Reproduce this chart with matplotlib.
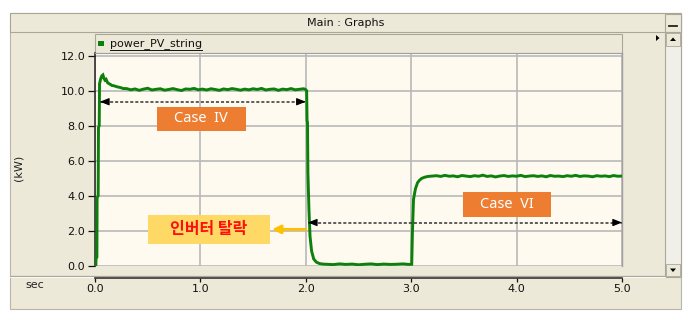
import matplotlib
matplotlib.use('Agg')
import matplotlib.pyplot as plt
from matplotlib.patches import Rectangle, Polygon
from matplotlib.lines import Line2D

# ---------------- data ----------------
rise_t = [0.0, 0.008, 0.010, 0.018, 0.020, 0.030, 0.033, 0.040, 0.043, 0.055, 0.065,
          0.075, 0.085, 0.095, 0.105, 0.12, 0.14, 0.16, 0.18, 0.21, 0.24, 0.27]
rise_p = [0.0, 0.0, 0.45, 0.5, 3.9, 4.0, 7.9, 8.0, 10.4, 10.7, 10.85,
          10.9, 10.7, 10.6, 10.65, 10.45, 10.38, 10.3, 10.28, 10.22, 10.18, 10.12]
plat1_t = [0.30, 0.34, 0.38, 0.42, 0.46, 0.50, 0.54, 0.58, 0.62, 0.66,
           0.70, 0.74, 0.78, 0.82, 0.86, 0.90, 0.94, 0.98, 1.02, 1.06,
           1.10, 1.14, 1.18, 1.22, 1.26, 1.30, 1.34, 1.38, 1.42, 1.46,
           1.50, 1.54, 1.58, 1.62, 1.66, 1.70, 1.74, 1.78, 1.82, 1.86,
           1.90, 1.94, 1.98]
plat1_p = [10.12, 10.05, 10.10, 10.02, 10.09, 10.14, 10.04, 10.08, 10.11, 10.03,
           10.07, 10.12, 10.06, 10.01, 10.10, 10.08, 10.13, 10.05, 10.09, 10.04,
           10.11, 10.07, 10.02, 10.10, 10.06, 10.12, 10.08, 10.03, 10.09, 10.05,
           10.11, 10.07, 10.13, 10.04, 10.08, 10.10, 10.02, 10.09, 10.06, 10.12,
           10.05, 10.08, 10.11]
drop_t = [1.995, 2.008, 2.012, 2.016, 2.020, 2.030, 2.040, 2.055, 2.075, 2.10, 2.13, 2.16]
drop_p = [10.08, 10.0, 8.3, 8.2, 5.3, 3.2, 1.7, 0.85, 0.4, 0.22, 0.14, 0.11]
plat2_t = [2.20, 2.26, 2.32, 2.38, 2.44, 2.50, 2.56, 2.62, 2.68, 2.74, 2.80, 2.86, 2.92, 2.98]
plat2_p = [0.10, 0.08, 0.12, 0.09, 0.11, 0.07, 0.10, 0.12, 0.08, 0.11, 0.09, 0.10, 0.12, 0.09]
rise2_t = [3.005, 3.012, 3.022, 3.04, 3.06, 3.08, 3.10, 3.13, 3.16, 3.20]
rise2_p = [0.10, 2.0, 3.8, 4.4, 4.75, 4.9, 5.0, 5.07, 5.11, 5.13]
plat3_t = [3.24, 3.28, 3.32, 3.36, 3.40, 3.44, 3.48, 3.52, 3.56, 3.60,
           3.64, 3.68, 3.72, 3.76, 3.80, 3.84, 3.88, 3.92, 3.96, 4.00,
           4.04, 4.08, 4.12, 4.16, 4.20, 4.24, 4.28, 4.32, 4.36, 4.40,
           4.44, 4.48, 4.52, 4.56, 4.60, 4.64, 4.68, 4.72, 4.76, 4.80,
           4.84, 4.88, 4.92, 4.96, 5.00]
plat3_p = [5.15, 5.11, 5.17, 5.12, 5.14, 5.09, 5.16, 5.13, 5.10, 5.15,
           5.12, 5.18, 5.11, 5.14, 5.08, 5.13, 5.16, 5.11, 5.14, 5.12,
           5.17, 5.10, 5.13, 5.15, 5.11, 5.14, 5.09, 5.16, 5.12, 5.13,
           5.10, 5.15, 5.12, 5.17, 5.11, 5.14, 5.13, 5.09, 5.15, 5.12,
           5.14, 5.10, 5.16, 5.12, 5.13]

x_ticks = [0, 1, 2, 3, 4, 5]
x_tick_labels = ['0.0', '1.0', '2.0', '3.0', '4.0', '5.0']
y_ticks = [0, 2, 4, 6, 8, 10, 12]
y_tick_labels = ['0.0', '2.0', '4.0', '6.0', '8.0', '10.0', '12.0']
series_name = 'power_PV_string'
title = 'Main : Graphs'
case4_label = 'Case  IV'
case6_label = 'Case  VI'
trip_label = '인버터 탈락'

t_all = rise_t + plat1_t + drop_t + plat2_t + rise2_t + plat3_t
p_all = rise_p + plat1_p + drop_p + plat2_p + rise2_p + plat3_p

# ---------------- layout helpers ----------------
W, H = 692, 321
fig = plt.figure(figsize=(W / 100, H / 100), dpi=100)
fig.patch.set_facecolor('white')

WIN = '#ECE9D8'
EDGE = '#a9a79a'


def fx(x):
    return x / W


def fy(y):
    return 1 - y / H


def frect(x0, y0, x1, y1, fc, ec='none', lw=0.8, z=-1):
    r = Rectangle((fx(x0), fy(y1)), (x1 - x0) / W, (y1 - y0) / H,
                  transform=fig.transFigure, facecolor=fc, edgecolor=ec,
                  linewidth=lw, zorder=z)
    fig.add_artist(r)


def fline(xs, ys, color, lw=0.8, z=1):
    fig.add_artist(Line2D([fx(x) for x in xs], [fy(y) for y in ys],
                          transform=fig.transFigure, color=color, linewidth=lw, zorder=z))


def ftri(pts, color='black', z=2):
    fig.add_artist(Polygon([(fx(a), fy(b)) for a, b in pts], closed=True,
                           transform=fig.transFigure, facecolor=color,
                           edgecolor='none', zorder=z))


# window
frect(10, 13, 681, 309, WIN, ec='#b8b6aa', lw=0.8, z=-3)
# title bar
frect(10, 13, 681, 32, WIN, ec=EDGE, lw=0.8, z=-2)
fig.text(fx(346), fy(23), title, ha='center', va='center', fontsize=8,
         family='DejaVu Sans', color='#111111')
# minus button
frect(665, 14, 681, 32, WIN, ec=EDGE, lw=0.8, z=-1)
fline([669, 677], [26, 26], '#222222', lw=1.3)
# scrollbar
frect(665, 32, 681, 277, '#F1F0E8', ec=EDGE, lw=0.8, z=-1)
frect(666, 33, 680, 46, WIN, ec=EDGE, lw=0.6, z=-1)
frect(666, 264, 680, 276, WIN, ec=EDGE, lw=0.6, z=-1)
ftri([(670, 41), (676, 41), (673, 37.5)])
ftri([(670, 268.5), (676, 268.5), (673, 272)])
# small right pointer
ftri([(656, 35), (656, 41), (659.5, 38)])
# legend bar
frect(95, 34, 622, 53, WIN, ec=EDGE, lw=0.8, z=-1)
frect(97.5, 41, 103.5, 46, '#0b800b', z=2)
# separator above x axis area
fline([10, 665], [276, 276], '#a9a79a', lw=0.9, z=-0.5)
fline([10, 665], [277, 277], '#ffffff', lw=0.6, z=-0.5)
# axis labels in window frame
fig.text(fx(19), fy(168), '(kW)', rotation=90, ha='center', va='center',
         fontsize=8, family='DejaVu Sans', color='#222222')
fig.text(fx(35), fy(285), 'sec', ha='center', va='center',
         fontsize=8, family='DejaVu Sans', color='#222222')

# ---------------- main axes ----------------
ax = fig.add_axes([fx(95), fy(266), (622 - 95) / W, (266 - 53) / H])
ax.set_facecolor('#FFFAF0')
ax.set_xlim(0, 5)
ax.set_ylim(0, 12.15)
ax.grid(True, color='#b8b8b8', linewidth=1.2)
ax.set_axisbelow(True)

ax.plot(t_all, p_all, color='#0b800b', linewidth=2.1, zorder=5,
        solid_joinstyle='miter')

ax.set_xticks(x_ticks)
ax.set_xticklabels(x_tick_labels)
ax.set_yticks(y_ticks)
ax.set_yticklabels(y_tick_labels)
ax.tick_params(axis='y', direction='out', length=5, width=0.9, pad=2,
               labelsize=8, colors='#111111')
ax.tick_params(axis='x', direction='out', length=3, width=0.9, pad=1.5,
               labelsize=8, colors='#111111')
for lab in ax.get_xticklabels() + ax.get_yticklabels():
    lab.set_family('DejaVu Sans')

ax.spines['left'].set_color('#222222')
ax.spines['left'].set_linewidth(1.1)
ax.spines['top'].set_color('#a0a0a0')
ax.spines['right'].set_color('#a0a0a0')
ax.spines['right'].set_linewidth(1.0)
ax.spines['bottom'].set_position(('outward', 12 * 0.72))
ax.spines['bottom'].set_color('#333333')
ax.spines['bottom'].set_linewidth(1.2)


def dash_arrow(x0, x1, y):
    ax.plot([x0, x1], [y, y], color='#333333', lw=1.1, ls=(0, (2, 1.3)),
            zorder=6, clip_on=False)
    for tip, tail in ((x0, x0 + 0.07), (x1, x1 - 0.07)):
        ax.annotate('', xy=(tip, y), xytext=(tail, y),
                    arrowprops=dict(arrowstyle='-|>,head_length=0.55,head_width=0.22',
                                    color='black', lw=0.8, shrinkA=0, shrinkB=0),
                    zorder=7, annotation_clip=False)


dash_arrow(0.047, 2.0, 9.37)
dash_arrow(2.02, 5.0, 2.48)

# Case boxes
ax.add_patch(Rectangle((0.588, 7.71), 1.43 - 0.588, 9.09 - 7.71,
                       facecolor='#ED7D31', edgecolor='none', zorder=8))
ax.text((0.588 + 1.43) / 2, (7.71 + 9.09) / 2, case4_label, ha='center', va='center',
        color='white', fontsize=10.5, fontweight='bold', family='Noto Sans', zorder=9)
ax.add_patch(Rectangle((3.49, 2.8), 4.33 - 3.49, 4.23 - 2.8,
                       facecolor='#ED7D31', edgecolor='none', zorder=8))
ax.text((3.49 + 4.33) / 2, (2.8 + 4.23) / 2, case6_label, ha='center', va='center',
        color='white', fontsize=10.5, fontweight='bold', family='Noto Sans', zorder=9)

# inverter trip box
ax.add_patch(Rectangle((0.50, 1.26), 1.66 - 0.50, 2.91 - 1.26,
                       facecolor='#FFD966', edgecolor='none', zorder=8))
ax.text((0.50 + 1.66) / 2, (1.26 + 2.91) / 2 + 0.05, trip_label, ha='center', va='center',
        color='#FF1010', fontsize=11.5, fontweight='bold',
        family=['Noto Sans CJK KR', 'DejaVu Sans'], zorder=9)
ax.annotate('', xy=(1.68, 2.09), xytext=(2.0, 2.09),
            arrowprops=dict(arrowstyle='-|>,head_length=0.5,head_width=0.25',
                            color='#FFC000', lw=2.0, shrinkA=0, shrinkB=0),
            zorder=7)

# legend text with underline
leg = fig.text(fx(110), fy(43.5), series_name, ha='left', va='center', fontsize=8,
               family='DejaVu Sans', color='#111111', zorder=3)
fig.canvas.draw()
bb = leg.get_window_extent()
uy = (bb.y0 - 1.5) / H
fig.add_artist(Line2D([bb.x0 / W, bb.x1 / W], [uy, uy], transform=fig.transFigure,
                      color='#111111', linewidth=0.7, zorder=3))

fig.savefig('out.png', dpi=100, facecolor='white')
